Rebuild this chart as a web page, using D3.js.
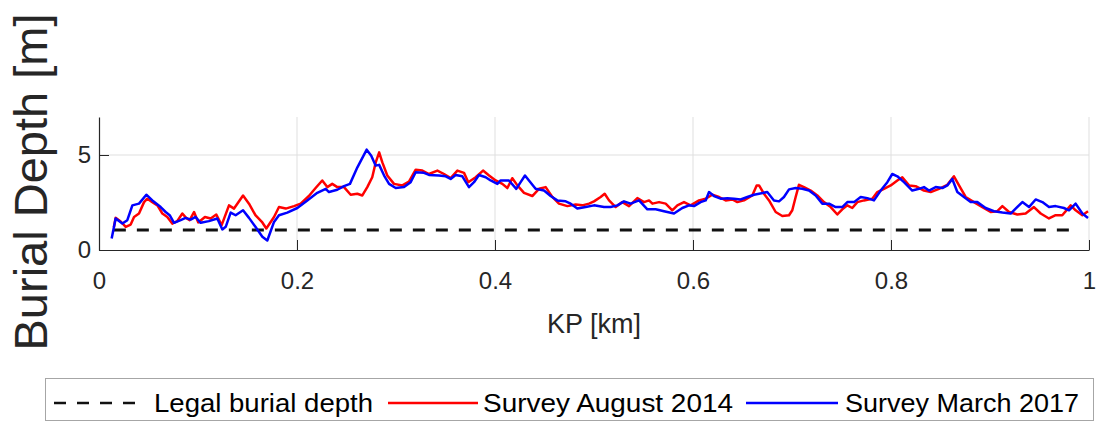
<!DOCTYPE html>
<html><head><meta charset="utf-8">
<script src="https://cdn.jsdelivr.net/npm/d3@7"></script>
<style>
html,body{margin:0;padding:0;background:#fff;}
svg{display:block;font-family:"Liberation Sans",Arial,sans-serif;}
</style></head>
<body><svg id="chart" width="1099" height="425"></svg>
<script>
// ---- data ----
const xTicks = [0, 0.2, 0.4, 0.6, 0.8, 1];
const xTickLabels = ["0", "0.2", "0.4", "0.6", "0.8", "1"];
const yTicks = [0, 5];
const yTickLabels = ["0", "5"];

const legalKP = [0.015, 0.99];
const legalDepth = [1.05, 1.05];

const kpAug2014 = [0.015,0.0168,0.0219,0.027,0.032,0.0354,0.0404,0.0455,0.0488,0.0539,0.059,0.064,0.069,0.074,0.079,0.0842,0.088,0.0916,0.096,0.1003,0.107,0.1128,0.1185,0.1239,0.1313,0.1364,0.1455,0.1515,0.158,0.165,0.169,0.1768,0.1818,0.1886,0.197,0.2037,0.212,0.2188,0.2255,0.2306,0.2356,0.2407,0.2475,0.2542,0.2609,0.266,0.271,0.276,0.2795,0.283,0.2862,0.2912,0.298,0.3064,0.3131,0.3199,0.3266,0.3333,0.3418,0.3485,0.3552,0.362,0.3687,0.373,0.3805,0.3879,0.394,0.4007,0.4074,0.4125,0.4175,0.4226,0.4293,0.4377,0.4444,0.4512,0.4579,0.4646,0.4731,0.4815,0.4882,0.495,0.5,0.5067,0.5108,0.5152,0.5219,0.5286,0.5354,0.5438,0.5505,0.5556,0.559,0.5657,0.5724,0.5791,0.5842,0.5909,0.5976,0.6061,0.6128,0.6195,0.6263,0.633,0.6397,0.6448,0.6515,0.6599,0.6643,0.6667,0.6717,0.6768,0.6835,0.6902,0.697,0.7003,0.7037,0.707,0.7121,0.7189,0.7256,0.7323,0.7391,0.7458,0.7508,0.7559,0.7609,0.766,0.7727,0.7811,0.7862,0.7929,0.7997,0.8064,0.8114,0.8182,0.8249,0.8333,0.8401,0.8485,0.8569,0.8636,0.8687,0.8754,0.8838,0.8923,0.9007,0.9074,0.9125,0.9192,0.9276,0.936,0.9444,0.9512,0.9596,0.9663,0.973,0.9815,0.9865,0.9933,0.999];
const depthAug2014 = [1.2,1.69,1.5,1.22,1.34,1.74,1.92,2.52,2.7,2.52,2.35,1.92,1.74,1.39,1.52,1.92,1.69,1.57,2.0,1.45,1.74,1.66,1.87,1.31,2.35,2.18,2.87,2.44,1.83,1.45,1.13,1.74,2.26,2.18,2.31,2.44,2.84,3.26,3.66,3.31,3.48,3.31,3.31,2.91,2.96,2.87,3.31,3.83,4.61,5.14,4.61,3.92,3.48,3.4,3.6,4.23,4.18,4.0,4.18,4.0,3.78,4.18,4.06,3.57,3.83,4.18,3.92,3.66,3.48,3.26,3.78,3.4,3.01,2.84,3.22,3.31,2.79,2.44,2.31,2.39,2.35,2.44,2.56,2.79,2.96,2.61,2.26,2.52,2.31,2.73,2.52,2.61,2.44,2.52,2.44,2.09,2.35,2.52,2.35,2.61,2.7,2.91,2.79,2.61,2.66,2.52,2.61,2.87,3.4,3.4,2.96,2.61,2.0,1.79,1.83,2.09,2.79,3.43,3.31,3.13,2.87,2.52,2.26,1.87,2.14,2.35,2.21,2.52,2.61,2.7,3.05,3.22,3.4,3.66,3.83,3.4,3.36,3.13,3.05,3.22,3.43,3.88,3.4,2.79,2.52,2.26,2.0,2.04,2.31,2.0,1.87,1.92,2.26,1.92,1.66,1.83,1.83,2.35,2.09,1.83,2.04];

const kpMar2017 = [0.0128,0.0168,0.0236,0.0286,0.0337,0.0404,0.0478,0.0539,0.0623,0.0673,0.0714,0.0758,0.0825,0.0875,0.0926,0.0976,0.1027,0.111,0.1195,0.1246,0.128,0.133,0.138,0.1455,0.1515,0.158,0.165,0.170,0.1768,0.1818,0.1902,0.2003,0.2104,0.2205,0.229,0.2323,0.2407,0.2475,0.2535,0.261,0.2704,0.275,0.2795,0.283,0.288,0.293,0.2997,0.3081,0.3148,0.3199,0.3283,0.3333,0.3434,0.3502,0.3552,0.3603,0.367,0.3737,0.3788,0.3838,0.3906,0.3956,0.4024,0.4057,0.4141,0.4215,0.4259,0.4303,0.4343,0.441,0.4495,0.4562,0.4629,0.4714,0.4764,0.4832,0.4916,0.5,0.5101,0.5168,0.5236,0.5303,0.537,0.5455,0.5539,0.5623,0.5707,0.5808,0.5892,0.596,0.601,0.6077,0.6128,0.6162,0.6212,0.6279,0.6347,0.6414,0.6481,0.6549,0.6616,0.6667,0.675,0.6818,0.6869,0.6919,0.697,0.7037,0.7104,0.7172,0.7239,0.7306,0.7374,0.7441,0.7508,0.7559,0.7626,0.7694,0.7761,0.7828,0.7896,0.7963,0.8013,0.8064,0.8131,0.8215,0.8283,0.8333,0.8384,0.8451,0.8519,0.8569,0.8619,0.867,0.8737,0.8805,0.8872,0.8956,0.904,0.9125,0.9209,0.9259,0.9327,0.9394,0.9461,0.9529,0.9596,0.9663,0.9747,0.9798,0.9865,0.9933,0.999];
const depthMar2017 = [0.61,1.66,1.39,1.57,2.35,2.44,2.91,2.61,2.26,2.0,1.83,1.43,1.57,1.69,1.6,1.74,1.43,1.52,1.66,1.08,1.22,1.97,1.83,2.09,1.69,1.22,0.7,0.5,1.48,1.83,1.97,2.21,2.61,3.01,3.22,3.05,3.17,3.36,3.48,4.35,5.28,4.96,4.44,4.48,3.92,3.48,3.26,3.31,3.57,4.09,4.06,3.95,3.92,3.88,3.74,3.95,3.88,3.31,3.57,3.95,3.83,3.66,3.48,3.66,3.66,3.22,3.57,3.92,3.66,3.22,3.13,2.84,2.61,2.56,2.44,2.18,2.26,2.35,2.26,2.26,2.35,2.56,2.44,2.61,2.14,2.14,2.04,1.92,2.21,2.35,2.31,2.52,2.61,3.05,2.84,2.7,2.73,2.7,2.66,2.79,2.91,2.96,3.05,2.61,2.56,2.79,3.19,3.26,3.22,3.13,2.87,2.44,2.44,2.26,2.26,2.52,2.52,2.79,2.73,2.61,3.13,3.57,4.0,3.88,3.57,3.13,3.22,3.31,3.13,3.31,3.26,3.4,3.74,3.05,2.79,2.52,2.52,2.21,2.04,1.97,1.92,2.18,2.52,2.26,2.66,2.52,2.26,2.31,2.21,2.09,2.44,1.92,1.69];

const seriesNames = ["Legal burial depth", "Survey August 2014", "Survey March 2017"];

// ---- layout ----
const svg = d3.select("#chart");
const L = 99, R = 1089, T = 117, B = 250;
const x = d3.scaleLinear().domain([0, 1]).range([L, R]);
const y = d3.scaleLinear().domain([0, 7]).range([B, T]);
const axisCol = "#262626";
const gridCol = "#dfdfdf";

// grid
svg.append("g").selectAll("line.gx").data(xTicks.filter(d => d > 0)).join("line")
  .attr("x1", d => x(d)).attr("x2", d => x(d)).attr("y1", T).attr("y2", B)
  .attr("stroke", gridCol).attr("stroke-width", 1);
svg.append("g").selectAll("line.gy").data(yTicks.filter(d => d > 0)).join("line")
  .attr("x1", L).attr("x2", R).attr("y1", d => y(d)).attr("y2", d => y(d))
  .attr("stroke", gridCol).attr("stroke-width", 1);

// axes
const xAxis = d3.axisBottom(x).tickValues(xTicks).tickFormat((d, i) => xTickLabels[i]).tickSize(-10).tickPadding(22).tickSizeOuter(0);
const gx = svg.append("g").attr("transform", `translate(0,${B})`).call(xAxis);
gx.select(".domain").attr("stroke", axisCol).attr("stroke-width", 1.2);
gx.selectAll(".tick line").attr("stroke", axisCol);
gx.selectAll(".tick text").attr("fill", axisCol).attr("font-size", 24).attr("font-family", "Liberation Sans, Arial, sans-serif");

const yAxis = d3.axisLeft(y).tickValues(yTicks).tickFormat((d, i) => yTickLabels[i]).tickSize(-10).tickPadding(8).tickSizeOuter(0);
const gy = svg.append("g").attr("transform", `translate(${L},0)`).call(yAxis);
gy.select(".domain").attr("stroke", axisCol).attr("stroke-width", 1.2);
gy.selectAll(".tick line").attr("stroke", axisCol);
gy.selectAll(".tick text").attr("fill", axisCol).attr("font-size", 24).attr("font-family", "Liberation Sans, Arial, sans-serif");

// axis labels
svg.append("text").attr("x", (L + R) / 2).attr("y", 333).attr("text-anchor", "middle")
  .attr("font-size", 27).attr("fill", axisCol).text("KP [km]");
svg.append("text").attr("transform", "translate(47,182) rotate(-90)").attr("text-anchor", "middle")
  .attr("font-size", 47).attr("fill", axisCol).text("Burial Depth [m]");

// lines
const line = d3.line().x(d => x(d[0])).y(d => y(d[1]));
const plot = svg.append("g");
plot.append("path").datum(d3.zip(legalKP, legalDepth)).attr("d", line)
  .attr("fill", "none").attr("stroke", "#111").attr("stroke-width", 3).attr("stroke-dasharray", "12,11");
plot.append("path").datum(d3.zip(kpAug2014, depthAug2014)).attr("d", line)
  .attr("fill", "none").attr("stroke", "#ff0000").attr("stroke-width", 2.5).attr("stroke-linejoin", "round");
plot.append("path").datum(d3.zip(kpMar2017, depthMar2017)).attr("d", line)
  .attr("fill", "none").attr("stroke", "#0000ff").attr("stroke-width", 2.5).attr("stroke-linejoin", "round");

// legend
const lg = svg.append("g");
lg.append("rect").attr("x", 45.5).attr("y", 378.5).attr("width", 1048).attr("height", 42)
  .attr("fill", "#fff").attr("stroke", "#a6a6a6").attr("stroke-width", 1);
const legendItems = [
  {name: seriesNames[0], color: "#111", dash: "12,11", x1: 54, x2: 136, tx: 154, tw: 219, w: 2.5},
  {name: seriesNames[1], color: "#ff0000", dash: null, x1: 388, x2: 478, tx: 483, tw: 250, w: 2.5},
  {name: seriesNames[2], color: "#0000ff", dash: null, x1: 746, x2: 838, tx: 845, tw: 234, w: 2.5}
];
legendItems.forEach(it => {
  lg.append("line").attr("x1", it.x1).attr("x2", it.x2).attr("y1", 403).attr("y2", 403)
    .attr("stroke", it.color).attr("stroke-width", it.w).attr("stroke-dasharray", it.dash);
  lg.append("text").attr("x", it.tx).attr("y", 412).attr("font-size", 26).attr("fill", "#000")
    .attr("textLength", it.tw).attr("lengthAdjust", "spacingAndGlyphs").text(it.name);
});
</script></body></html>
